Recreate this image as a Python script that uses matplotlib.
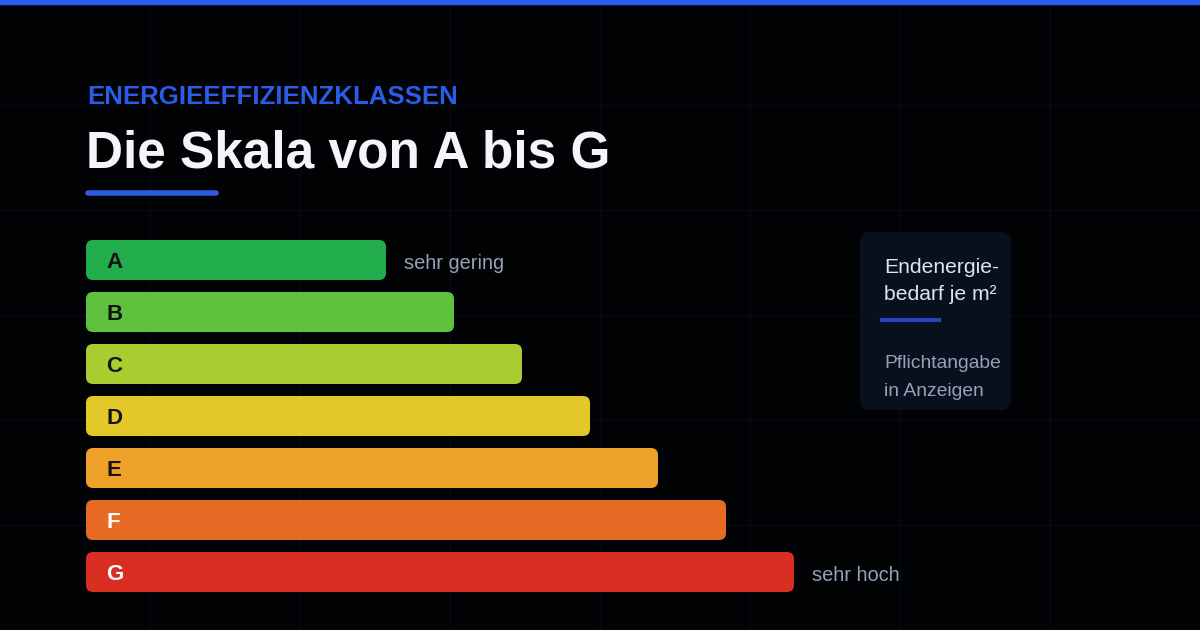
import matplotlib.pyplot as plt
from matplotlib.patches import FancyBboxPatch, Rectangle

plt.rcParams['font.family'] = ['Liberation Sans', 'DejaVu Sans']

# energy classes and their bar lengths (px units of the canvas)
classes = ['A', 'B', 'C', 'D', 'E', 'F', 'G']
bar_lengths = [300, 368, 436, 504, 572, 640, 708]
bar_colors = ['#22ad4c', '#5ec23e', '#a9cd30', '#e3c82a', '#eea129', '#e86b25', '#d92d22']
letter_colors = ['#111411', '#111411', '#111411', '#161310', '#1a120a', '#ffffff', '#ffffff']
end_labels = ['sehr gering', '', '', '', '', '', 'sehr hoch']

kicker = 'ENERGIEEFFIZIENZKLASSEN'
title = 'Die Skala von A bis G'
box_head = ['Endenergie-', 'bedarf je m²']
box_note = ['Pflichtangabe', 'in Anzeigen']

W, H = 1200, 630
fig = plt.figure(figsize=(W / 100, H / 100), dpi=100, facecolor='#010204')
ax = fig.add_axes([0, 0, 1, 1])
ax.set_xlim(0, W)
ax.set_ylim(H, 0)
ax.axis('off')
ax.set_facecolor('#010204')

# faint background grid
for gx in range(150, W, 150):
    ax.axvline(gx, color='#070a13', lw=1, zorder=0)
for gy in range(105, H, 105):
    ax.axhline(gy, color='#070a13', lw=1, zorder=0)

# top accent strip
ax.add_patch(Rectangle((0, 0), W, 4, color='#2a5ef2', zorder=5))

# header
ax.text(87, 104, kicker, color='#2b5ce8', fontsize=18.6, fontweight='bold',
        va='baseline', ha='left')
ax.text(86, 168, title, color='#f4f5fa', fontsize=37, fontweight='bold',
        va='baseline', ha='left')
ax.plot([88, 216], [193, 193], color='#2a5ce0', lw=4, solid_capstyle='round')

# bars
x0, top, bh, pitch = 86, 240, 40, 52
for i, (c, L) in enumerate(zip(classes, bar_lengths)):
    y = top + i * pitch
    ax.add_patch(FancyBboxPatch((x0, y), L, bh,
                                boxstyle='round,pad=0,rounding_size=7',
                                fc=bar_colors[i], ec='none', zorder=3))
    ax.text(x0 + 20, y + bh / 2 + 8, c, color=letter_colors[i], fontsize=16,
            fontweight='bold', va='baseline', ha='left', zorder=4)
    if end_labels[i]:
        ax.text(x0 + L + 18, y + bh / 2 + 9, end_labels[i], color='#97a0b6',
                fontsize=14.4, va='baseline', ha='left', zorder=4)

# info box
ax.add_patch(FancyBboxPatch((860, 232), 151, 178,
                            boxstyle='round,pad=0,rounding_size=10',
                            fc='#0f1a33', alpha=0.55, ec='none', zorder=2))
for j, s in enumerate(box_head):
    ax.text(884, 273 + j * 27, s, color='#dfe4ee', fontsize=15.2,
            va='baseline', ha='left', zorder=4)
ax.plot([882, 939], [319.5, 319.5], color='#2147b8', lw=3, zorder=4)
for j, s in enumerate(box_note):
    ax.text(884, 368 + j * 28, s, color='#97a0b6', fontsize=13.9,
            va='baseline', ha='left', zorder=4)

fig.savefig('out.png', dpi=100, facecolor=fig.get_facecolor())
